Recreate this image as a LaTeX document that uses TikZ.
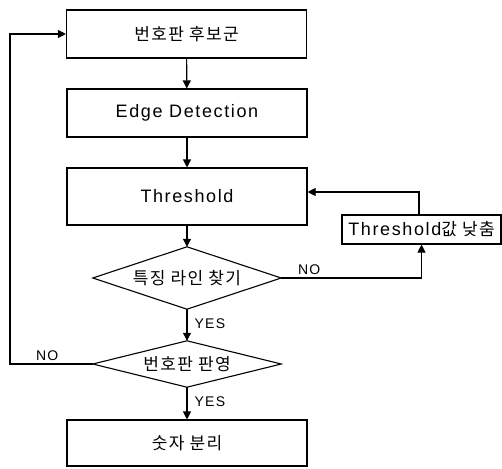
\documentclass[tikz,border=0pt]{standalone}
\usepackage{fontspec}
\setmainfont{Liberation Sans}[LetterSpace=9]
\newfontfamily\kr{Noto Sans CJK KR}[LetterSpace=8]
\usetikzlibrary{arrows.meta}
\tikzset{
  box/.style={draw,line width=1.1pt,minimum width=240pt,inner sep=0pt,font=\fontsize{18}{20}\selectfont},
  dec/.style={inner sep=0pt,font=\fontsize{17}{19}\selectfont},
  diam/.style={line width=1.1pt},
  arr/.style={line width=1.1pt,-{Triangle[length=8pt,width=8pt]}},
  lab/.style={font=\fontsize{14}{16}\selectfont,inner sep=0pt},
}
\newcommand\kt[1]{{\kr\fontsize{17}{19}\selectfont #1}}
\begin{document}
\begin{tikzpicture}[x=1pt,y=1pt]
\useasboundingbox (0,0) rectangle (502,-468);
\node[box,minimum height=48pt] (b1) at (186.5,-34) {\kt{번호판 후보군}};
\node[box,minimum height=48pt] (b2) at (187,-113) {Edge Detection};
\node[box,minimum height=57pt] (b3) at (187,-196.5) {Threshold};
\node[dec,minimum width=188pt,minimum height=62pt] (d1) at (187,-278) {\kt{특징 라인 찾기}};
\draw[diam] (d1.north) -- (d1.east) -- (d1.south) -- (d1.west) -- cycle;
\node[draw,line width=1.1pt,minimum width=159pt,minimum height=29pt,inner sep=0pt,font=\fontsize{18}{20}\selectfont] (th) at (421.5,-229.5) {Threshold\kt{값 낮춤}};
\node[dec,minimum width=188pt,minimum height=46pt] (d2) at (187,-364) {\kt{번호판 판영}};
\draw[diam] (d2.north) -- (d2.east) -- (d2.south) -- (d2.west) -- cycle;
\node[box,minimum height=46pt] (b4) at (187,-443) {\kt{숫자 분리}};
\draw[arr] (b1) -- (b2);
\draw[arr] (b2) -- (b3);
\draw[arr] (b3) -- (d1.north);
\draw[arr] (d1.south) -- node[lab,right=7pt,pos=0.45] (y1) {YES} (d2.north);
\draw[arr] (d2.south) -- node[lab,right=7pt,pos=0.45] (y2) {YES} (b4);
\coordinate (c1) at (419,-192);
\draw[arr] (d1.east) -- node[lab,above=3pt,pos=0.2] (n1) {NO} (d1.east -| th.south) -- (th.south);
\draw[arr] (th.north -| c1) |- (c1 -| b3.east);
\coordinate (lx) at (10,0);
\draw[arr] (d2.west) -- node[lab,above=3pt,pos=0.55] (n2) {NO} (d2.west -| lx) |- (b1.west);
\end{tikzpicture}
\end{document}
